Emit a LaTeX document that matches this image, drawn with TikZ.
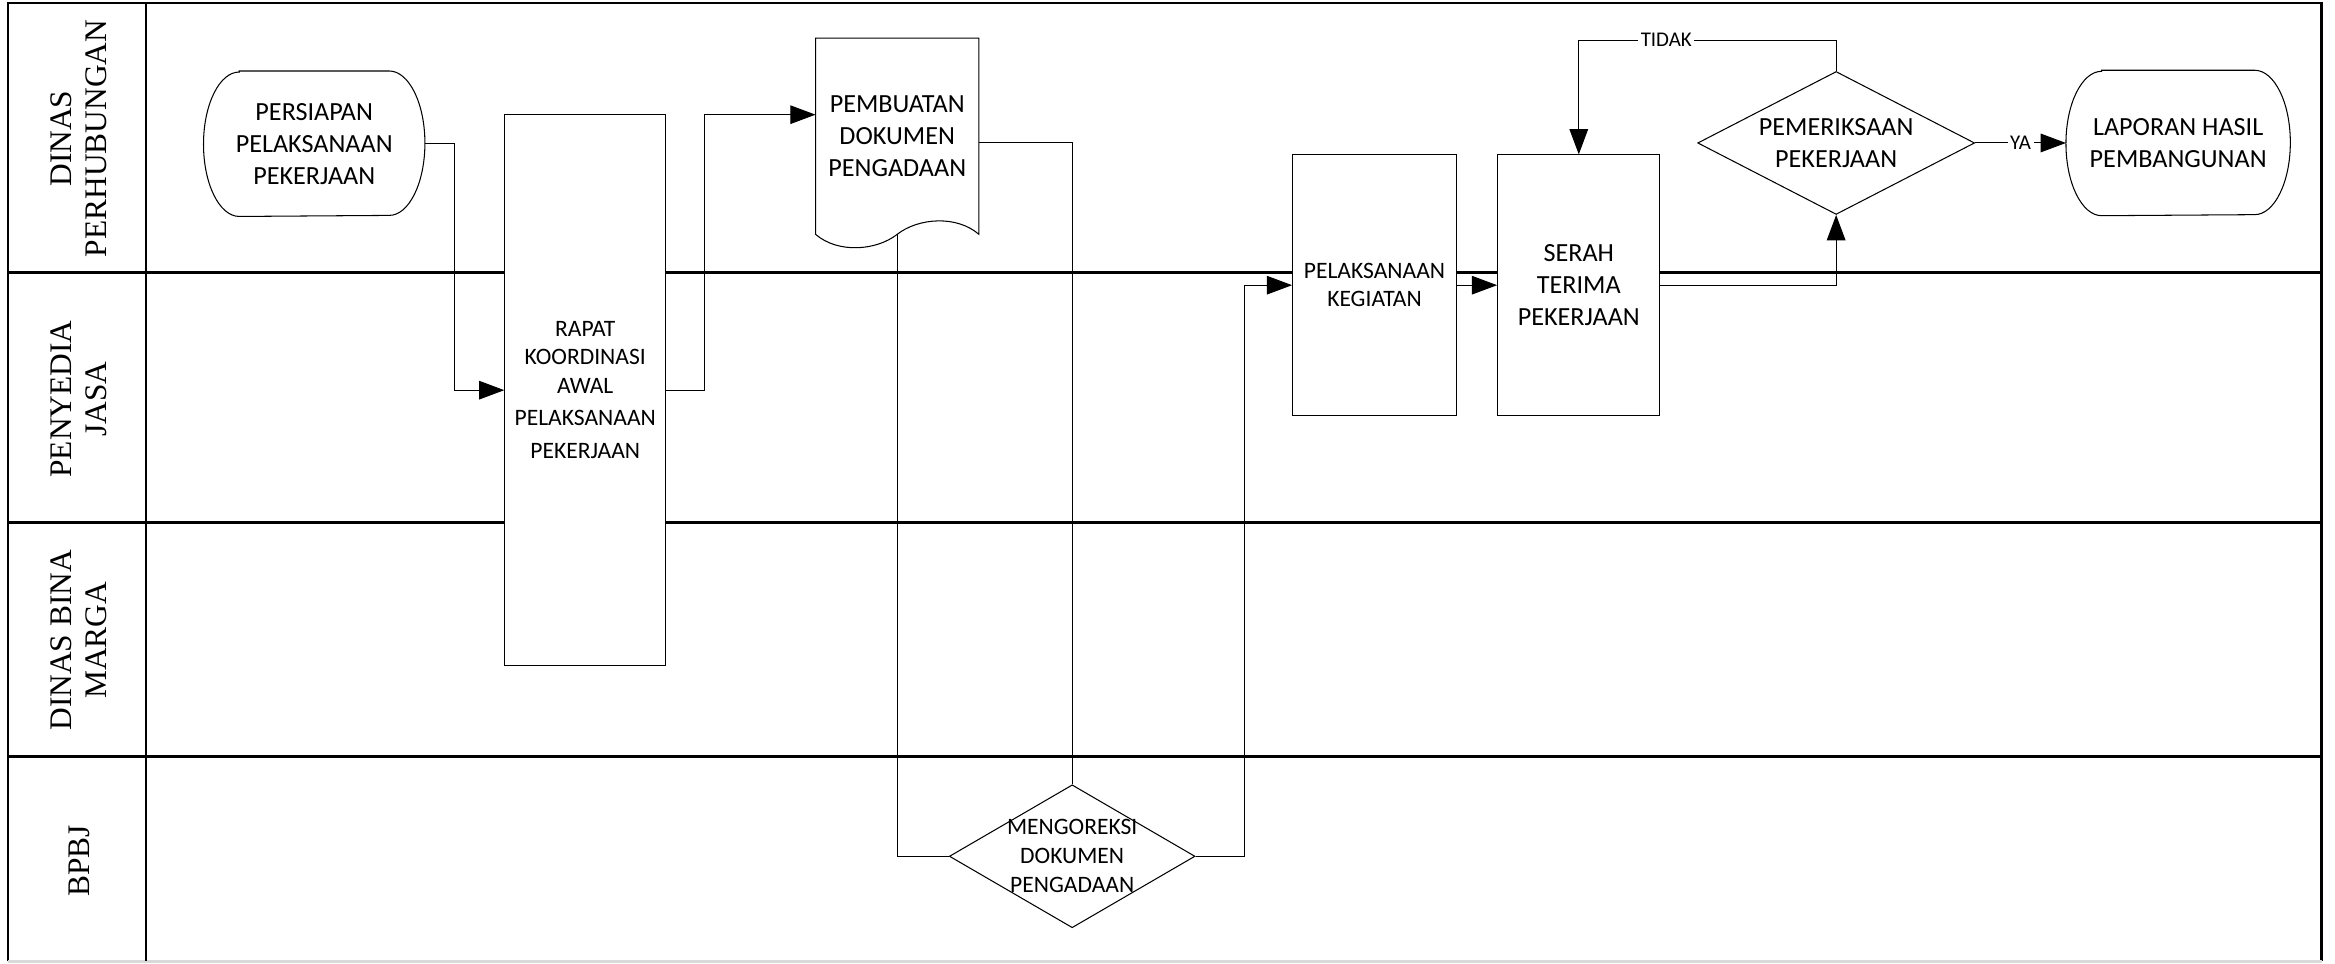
\documentclass[tikz,border=0pt]{standalone}
\usepackage{fontspec}
\setmainfont{Carlito}
\newfontfamily\lanefont{Liberation Serif}
\usetikzlibrary{positioning, arrows.meta, shapes.geometric}
\tikzset{
  % lanefill/.style={fill=gray!10},
  x=0.02cm, y=-0.02cm, line width=0.6pt,
  arr/.style={-{Triangle[length=0.34cm,width=0.25cm]}},
  lane/.style={line width=1pt},
  lanelabel/.style={rotate=90, align=center, font=\lanefont\fontsize{12}{13.6}\selectfont},
  box/.style={draw, fill=white, align=center, inner sep=0pt, font=\fontsize{9}{10.8}\selectfont},
  term/.style={align=center, inner sep=0pt, minimum height=1.94cm, font=\fontsize{10}{12.2}\selectfont},
  decision/.style={draw, diamond, fill=white, inner sep=0pt},
  answer/.style={fill=white, inner sep=1pt, font=\fontsize{8}{9.6}\selectfont}
}

\begin{document}
\begin{tikzpicture}
  \useasboundingbox (0,0) rectangle (1568,646.7);

  % lanes
  \draw[lane] (5.5,645.5) -- (5.5,2) -- (1559,2) -- (1559,645.5);
  \draw[gray!30, line width=1pt] (5.5,645.5) -- (1559,645.5);
  \draw[lane] (98,2) -- (98,645.5);
  \foreach \y in {183,351,508}
    \draw[lane] (5.5,\y) -- (1559,\y);

  \node[lanelabel] (dishub) at (53,93) {DINAS\\PERHUBUNGAN};
  \node[lanelabel] (penyedia) at (53,268) {PENYEDIA\\JASA};
  \node[lanelabel] (binamarga) at (53,430) {DINAS BINA\\MARGA};
  \node[lanelabel] (bpbj) at (53,578) {BPBJ};

  % steps
  \node[term, minimum width=2.96cm] (persiapan) at (211,96.5) {PERSIAPAN\\PELAKSANAAN\\PEKERJAAN};
  \node[box, minimum width=2.16cm, minimum height=7.4cm] (rapat) at (393,262)
    {RAPAT\\KOORDINASI\\AWAL\\[0.06cm]PELAKSANAAN\\[0.06cm]PEKERJAAN};
  \node[term, minimum width=2.18cm, minimum height=2.62cm] (pembuatan) at (602.5,91.5) {PEMBUATAN\\DOKUMEN\\PENGADAAN};
  \node[decision, minimum width=3.3cm, minimum height=1.92cm,
    label={[align=center, font=\fontsize{9}{11.1}\selectfont]center:MENGOREKSI\\DOKUMEN\\PENGADAAN}] (mengoreksi) at (720,575) {};
  \node[box, minimum width=2.2cm, minimum height=3.5cm] (pelaksanaan) at (923,191.5) {PELAKSANAAN\\KEGIATAN};
  \node[box, minimum width=2.18cm, minimum height=3.5cm, right=0.54cm of pelaksanaan,
    font=\fontsize{10}{12.2}\selectfont] (serah) {SERAH\\TERIMA\\PEKERJAAN};
  \node[decision, minimum width=3.72cm, minimum height=1.92cm,
    label={[align=center, font=\fontsize{10}{12.2}\selectfont]center:PEMERIKSAAN\\PEKERJAAN}] (pemeriksaan) at (1233,96) {};
  \node[term, minimum width=3cm, right=1.22cm of pemeriksaan] (laporan) {LAPORAN HASIL\\PEMBANGUNAN};

  % outlines
  \draw ([xshift=0.48cm]persiapan.north west) -- ([xshift=-0.48cm]persiapan.north east)
    arc[start angle=90, end angle=-90, x radius=0.48cm, y radius=0.97cm]
    -- ([xshift=0.48cm]persiapan.south west)
    arc[start angle=270, end angle=90, x radius=0.48cm, y radius=0.97cm] -- cycle;
  \draw ([xshift=0.48cm]laporan.north west) -- ([xshift=-0.48cm]laporan.north east)
    arc[start angle=90, end angle=-90, x radius=0.48cm, y radius=0.97cm]
    -- ([xshift=0.48cm]laporan.south west)
    arc[start angle=270, end angle=90, x radius=0.48cm, y radius=0.97cm] -- cycle;
  \draw (pembuatan.south west) -- (pembuatan.north west) -- (pembuatan.north east) -- (pembuatan.south east)
    .. controls +(-15,-13) and +(14,-11) .. (pembuatan.south)
    .. controls +(-14,11) and +(15,13) .. (pembuatan.south west);

  % flow
  \coordinate (k1) at (305,0);
  \coordinate (k2) at (473,0);
  \coordinate (k3) at (836,0);
  \coordinate (k4) at (0,27);
  \draw[arr] (persiapan.east) -- (persiapan.east -| k1) |- (rapat.west);
  \draw[arr] (rapat.east) -- (rapat.east -| k2) |- ([yshift=0.29cm]pembuatan.west);
  \draw (pembuatan.south) |- (mengoreksi.west);
  \draw ([yshift=-0.09cm]pembuatan.east) -| (mengoreksi.north);
  \draw[arr] (mengoreksi.east) -- (mengoreksi.east -| k3) |- (pelaksanaan.west);
  \draw[arr] (pelaksanaan) -- (serah);
  \draw[arr] (serah.east) -| (pemeriksaan.south);
  \draw[arr] (pemeriksaan.north) -- (pemeriksaan.north |- k4) -| node[answer, pos=0.33] {TIDAK} (serah.north);
  \draw[arr] (pemeriksaan) -- node[answer] {YA} (laporan);
\end{tikzpicture}
\end{document}
